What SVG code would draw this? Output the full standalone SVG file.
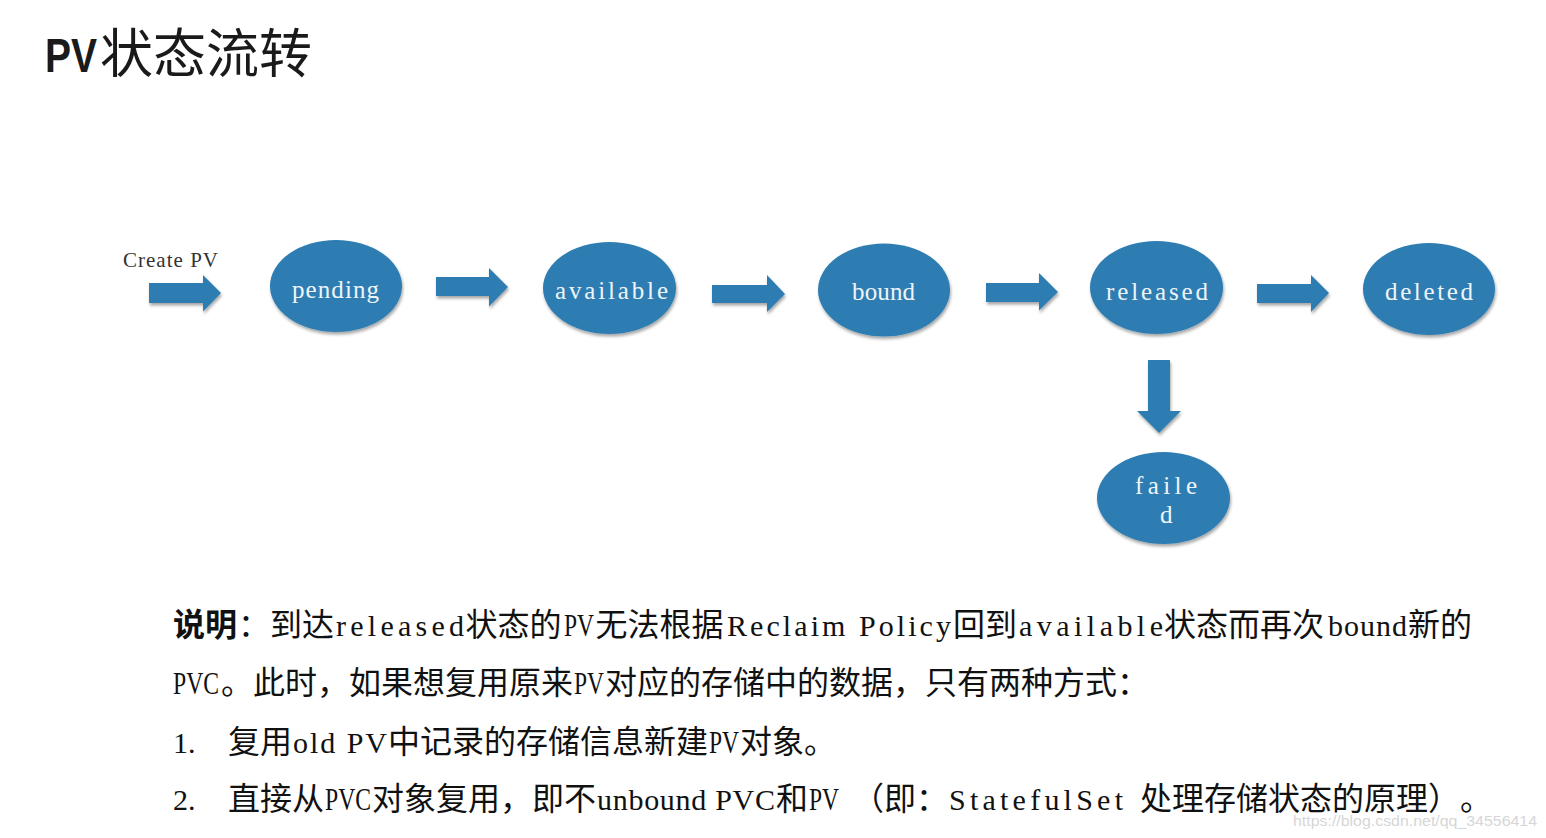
<svg xmlns="http://www.w3.org/2000/svg" width="1546" height="838" viewBox="0 0 1546 838">
<defs>
<filter id="sh" x="-15%" y="-15%" width="135%" height="145%">
<feDropShadow dx="1" dy="2.5" stdDeviation="1.6" flood-color="#000" flood-opacity="0.35"/>
</filter>
<style>
.node ellipse{fill:#2f7db2;filter:url(#sh)}
.node text{font-family:"Liberation Serif","DejaVu Serif",serif;font-size:25px;fill:#eef4f8}
.arrow{fill:#2f7db2;filter:url(#sh)}
.body{fill:#111}
.cj{font-family:"Noto Sans CJK SC","Noto Sans CJK JP",sans-serif;font-size:32px}
.la{font-family:"Liberation Serif","Noto Sans CJK SC",serif;font-size:30px}
.up{font-family:"Liberation Serif","Noto Sans CJK SC",serif;font-size:32px}
</style>
</defs>
<rect width="1546" height="838" fill="#ffffff"/>

<g id="title">
<text x="45" y="72" font-family="Liberation Sans, Arial, sans-serif" font-weight="bold" font-size="48" fill="#1a1a1a" textLength="52" lengthAdjust="spacingAndGlyphs">PV</text>
<text x="100" y="73" font-family="Noto Sans CJK SC, sans-serif" font-size="53" fill="#1a1a1a">状态流转</text>
</g>

<g id="create-pv">
<text x="123" y="267" font-family="Liberation Serif, serif" font-size="21" fill="#333" textLength="95" lengthAdjust="spacing">Create PV</text>
</g>

<g id="pending" class="node">
<ellipse cx="336" cy="286" rx="66" ry="46"/>
<text x="292" y="298" textLength="87" lengthAdjust="spacing">pending</text>
</g>
<g id="available" class="node">
<ellipse cx="609.5" cy="288" rx="66.5" ry="46"/>
<text x="555" y="299" textLength="113" lengthAdjust="spacing">available</text>
</g>
<g id="bound" class="node">
<ellipse cx="884" cy="290" rx="66" ry="46.5"/>
<text x="852" y="300" textLength="63" lengthAdjust="spacing">bound</text>
</g>
<g id="released" class="node">
<ellipse cx="1156.5" cy="287.5" rx="66.5" ry="46.5"/>
<text x="1106" y="300" textLength="102" lengthAdjust="spacing">released</text>
</g>
<g id="deleted" class="node">
<ellipse cx="1429" cy="289" rx="66" ry="46"/>
<text x="1385" y="300" textLength="88" lengthAdjust="spacing">deleted</text>
</g>
<g id="failed" class="node">
<ellipse cx="1163.5" cy="498" rx="66.5" ry="46"/>
<text x="1135" y="494" textLength="62" lengthAdjust="spacing">faile</text>
<text x="1160" y="523">d</text>
</g>

<g id="connectors">
<polygon class="arrow" points="149,283 203,283 203,275 221,293 203,311.5 203,303 149,303"/>
<polygon class="arrow" points="436,277 489,277 489,268 508,287 489,306.5 489,296 436,296"/>
<polygon class="arrow" points="712,285 767,285 767,275 785,294 767,312 767,303 712,303"/>
<polygon class="arrow" points="986,283 1039,283 1039,273 1058,292 1039,310.5 1039,302 986,302"/>
<polygon class="arrow" points="1257,284 1311,284 1311,275 1329,293 1311,312 1311,303 1257,303"/>
<polygon class="arrow" points="1148,360 1170,360 1170,411 1181,411 1159,433 1137,411 1148,411"/>
</g>

<g id="description" class="body">
<text y="636">
<tspan class="cj" x="173" font-weight="bold">说明</tspan><tspan class="cj" x="238">：到达</tspan><tspan class="la" x="336" textLength="128" lengthAdjust="spacing">released</tspan><tspan class="cj" x="465.5">状态的</tspan><tspan class="up" x="564" textLength="30" lengthAdjust="spacingAndGlyphs">PV</tspan><tspan class="cj" x="595.5">无法根据</tspan><tspan class="la" x="727" textLength="224" lengthAdjust="spacing">Reclaim Policy</tspan><tspan class="cj" x="953">回到</tspan><tspan class="la" x="1019" textLength="144" lengthAdjust="spacing">available</tspan><tspan class="cj" x="1164">状态而再次</tspan><tspan class="la" x="1328" textLength="79" lengthAdjust="spacing">bound</tspan><tspan class="cj" x="1408">新的</tspan>
</text>
<text y="694">
<tspan class="up" x="173" textLength="46" lengthAdjust="spacingAndGlyphs">PVC</tspan><tspan class="cj" x="221">。此时，如果想复用原来</tspan><tspan class="up" x="574" textLength="30" lengthAdjust="spacingAndGlyphs">PV</tspan><tspan class="cj" x="605">对应的存储中的数据，只有两种方式：</tspan>
</text>
<text y="753">
<tspan class="la" x="173">1.</tspan><tspan class="cj" x="228">复用</tspan><tspan class="la" x="293" textLength="94" lengthAdjust="spacing">old PV</tspan><tspan class="cj" x="388">中记录的存储信息新建</tspan><tspan class="up" x="709" textLength="30" lengthAdjust="spacingAndGlyphs">PV</tspan><tspan class="cj" x="740">对象。</tspan>
</text>
<text y="810">
<tspan class="la" x="173">2.</tspan><tspan class="cj" x="228">直接从</tspan><tspan class="up" x="325" textLength="46" lengthAdjust="spacingAndGlyphs">PVC</tspan><tspan class="cj" x="372">对象复用，即不</tspan><tspan class="la" x="597" textLength="178" lengthAdjust="spacing">unbound PVC</tspan><tspan class="cj" x="776">和</tspan><tspan class="up" x="809" textLength="30" lengthAdjust="spacingAndGlyphs">PV</tspan><tspan class="cj" x="852">（即：</tspan><tspan class="la" x="949" textLength="174" lengthAdjust="spacing">StatefulSet</tspan><tspan class="cj" x="1140">处理存储状态的原理）</tspan><tspan class="cj" x="1460">。</tspan>
</text>
</g>

<g id="watermark">
<text x="1293" y="826" font-family="Liberation Sans, Arial, sans-serif" font-size="15.5" fill="#d6d6d6" textLength="244" lengthAdjust="spacingAndGlyphs">https://blog.csdn.net/qq_34556414</text>
</g>
</svg>
